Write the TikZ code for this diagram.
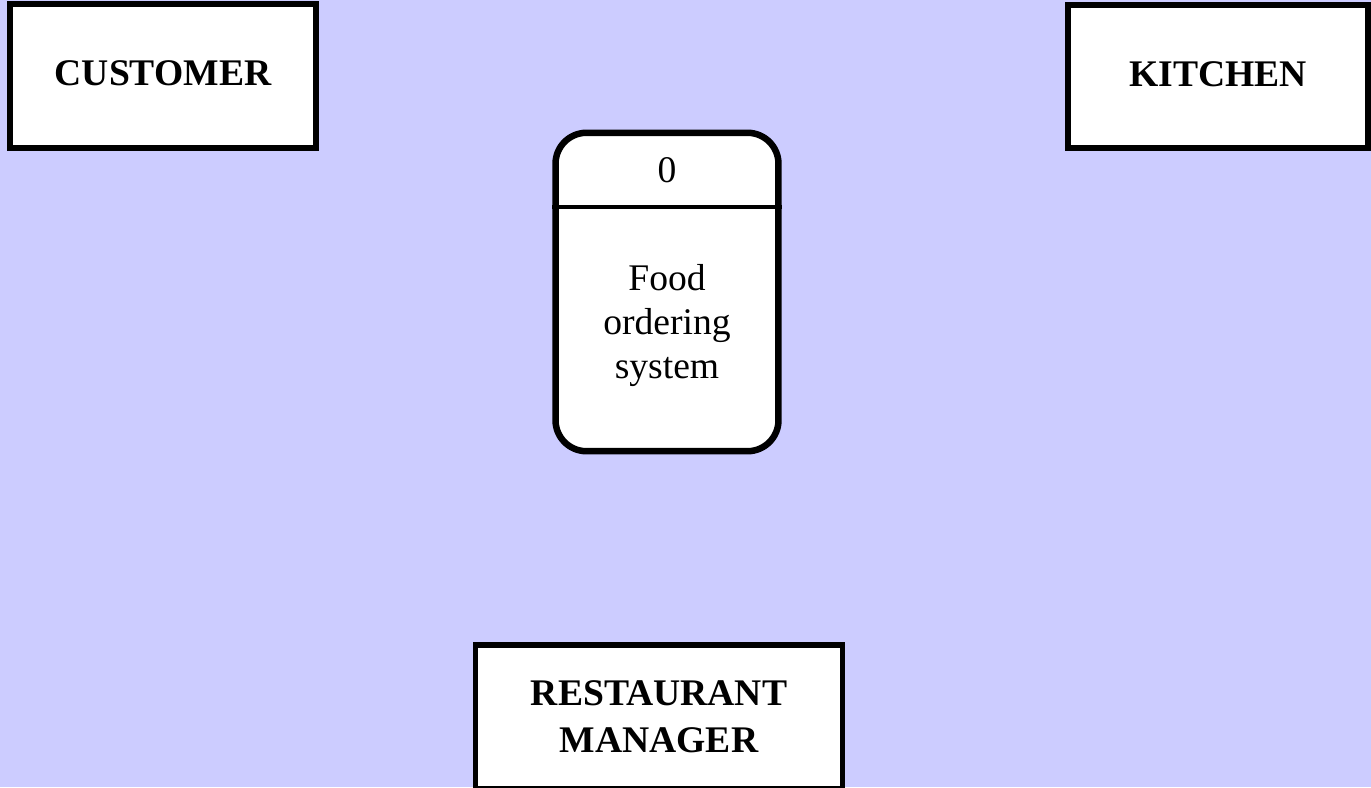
\documentclass[tikz,border=0pt]{standalone}
\usepackage{fontspec}
\setmainfont{Liberation Serif}
\usetikzlibrary{positioning}
\definecolor{bgpurple}{RGB}{204,204,255}

\begin{document}
\begin{tikzpicture}[x=0.02cm,y=-0.02cm,
  entity/.style={draw,fill=white,line width=0.11cm,inner sep=0pt,align=center,
    font=\fontsize{21.4}{26.5}\selectfont\bfseries},
  process/.style={draw,fill=white,line width=0.13cm,rounded corners=0.62cm,inner sep=0pt},
  ptext/.style={inner sep=0pt,align=center,font=\fontsize{21.4}{25}\selectfont}]
\fill[bgpurple] (0,0) rectangle (1371,787);
\useasboundingbox (0,0) rectangle (1371,787);
\node[entity,minimum width=6.12cm,minimum height=2.88cm,text depth=0.3em] (CU) at (163,76) {CUSTOMER};
\node[entity,minimum width=6cm,minimum height=2.86cm,text depth=0.3em] (KI) at (1218,76.5) {KITCHEN};
\node[entity,minimum width=7.35cm,minimum height=2.88cm] (RM) at (659,717) {RESTAURANT\\MANAGER};
\node[process,minimum width=4.46cm,minimum height=6.37cm] (P0) at (667,292) {};
\coordinate (PD) at (667,207);
\draw[line width=0.09cm] (P0.west |- PD) -- (P0.east |- PD);
\node[ptext] (PID) at (667,170) {0};
\node[ptext] (PN) at (667,325.5) {Food\\ordering\\system};
\end{tikzpicture}
\end{document}
